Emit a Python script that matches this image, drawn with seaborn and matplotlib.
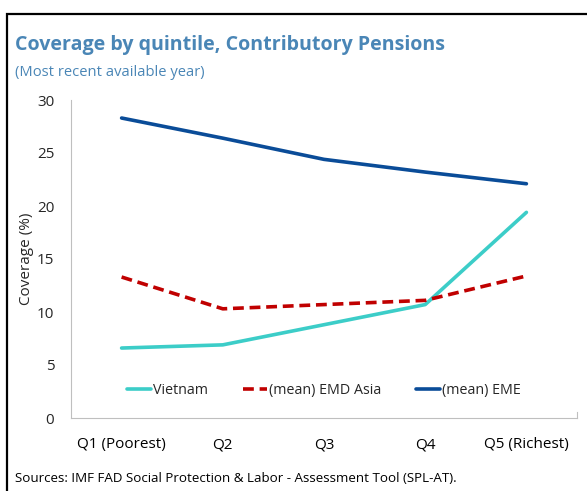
import matplotlib
matplotlib.use("Agg")
import matplotlib.pyplot as plt
import matplotlib.patches as mpatches
import seaborn as sns
import pandas as pd

quintiles = ["Q1 (Poorest)", "Q2", "Q3", "Q4", "Q5 (Richest)"]
vietnam = [6.6, 6.9, 8.8, 10.7, 19.4]
emd_asia = [13.3, 10.3, 10.7, 11.1, 13.4]
eme = [28.3, 26.4, 24.4, 23.2, 22.1]
series_names = ["Vietnam", "(mean) EMD Asia", "(mean) EME"]
yticks = [0, 5, 10, 15, 20, 25, 30]

sns.set_style("white")
plt.rcParams["font.family"] = ["Open Sans", "DejaVu Sans"]

fig = plt.figure(figsize=(5.87, 4.91), dpi=100)
ax = fig.add_axes([71/587, 1-418/491, (577-71)/587, (418-100)/491])

df = pd.DataFrame({
    "x": list(range(5)) * 3,
    "value": vietnam + emd_asia + eme,
    "series": [series_names[0]] * 5 + [series_names[1]] * 5 + [series_names[2]] * 5,
})
colors = {"Vietnam": "#3CCDC8", "(mean) EMD Asia": "#C00000", "(mean) EME": "#0A4C98"}
dashes = {"Vietnam": "", "(mean) EMD Asia": (3, 1.6), "(mean) EME": ""}
sns.lineplot(data=df, x="x", y="value", hue="series", style="series",
             palette=colors, dashes=dashes, linewidth=2.6, ax=ax,
             hue_order=series_names, style_order=series_names)

ax.set_xlim(-0.5, 4.5)
ax.set_ylim(0, 30)
ax.set_yticks(yticks)
ax.set_xticks(range(5))
ax.set_xticklabels(quintiles)
ax.set_xticks([0.5, 1.5, 2.5, 3.5], minor=True)
ax.tick_params(axis="x", which="major", length=0, pad=14, labelsize=11, colors="black")
ax.tick_params(axis="x", which="minor", length=5, direction="in", color="#BFBFBF", width=0.8)
ax.tick_params(axis="y", length=5, direction="in", color="#BFBFBF", width=0.8, pad=12, labelsize=11)
ax.set_xlabel("")
ax.set_ylabel("Coverage (%)", fontsize=11, labelpad=2)
ax.spines["top"].set_visible(False)
for s in ["left", "bottom", "right"]:
    ax.spines[s].set_color("#BFBFBF")
    ax.spines[s].set_linewidth(0.8)
ax.spines["right"].set_bounds(0, 0.6)

leg = ax.legend(loc="lower center", bbox_to_anchor=(0.5, 0.022), ncol=3, frameon=False,
                fontsize=10.3, handlelength=1.7, handletextpad=0.15, columnspacing=2.4)
leg.set_title(None)

fig.text(15/587, 1-45/491, "Coverage by quintile, Contributory Pensions", fontsize=14.1,
         fontweight="bold", color="#4A86B6", va="center", ha="left")
fig.text(15/587, 1-72/491, "(Most recent available year)", fontsize=10.6,
         color="#4A86B6", va="center", ha="left")
fig.text(15/587, 1-478/491, "Sources: IMF FAD Social Protection & Labor - Assessment Tool (SPL-AT).",
         fontsize=9.6, color="black", va="center", ha="left")

rect = mpatches.Rectangle((7/587, -0.05), 1.0, 1-14/491 + 0.05, transform=fig.transFigure,
                          fill=False, edgecolor="black", linewidth=1.6, clip_on=False)
fig.patches.append(rect)

fig.savefig("out.png", dpi=100)
